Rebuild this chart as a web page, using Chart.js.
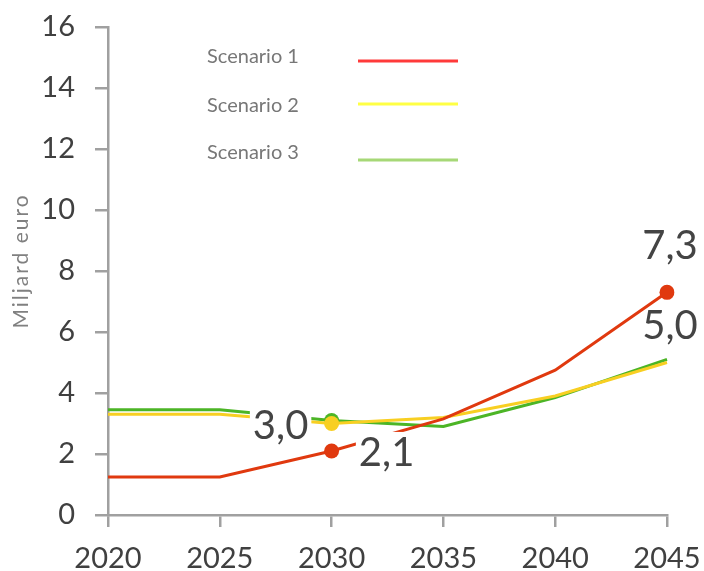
<!DOCTYPE html>
<html><head><meta charset="utf-8">
<script src="https://cdn.jsdelivr.net/npm/chart.js@4/dist/chart.umd.min.js"></script>
<style>html,body{margin:0;padding:0;background:#fff}#wrap{width:704px;height:571px}</style>
</head><body><div id="wrap"><canvas id="c" width="704" height="571"></canvas></div>
<script>
const years = ['2020','2025','2030','2035','2040','2045'];
const seriesNames = ['Scenario 1','Scenario 2','Scenario 3'];
const scenario1 = [1.25, 1.25, 2.1, 3.15, 4.75, 7.3];
const scenario2 = [3.3, 3.3, 3.0, 3.2, 3.9, 5.0];
const scenario3 = [3.45, 3.45, 3.1, 2.9, 3.85, 5.1];
const yTicks = [0, 2, 4, 6, 8, 10, 12, 14, 16];
const yTitle = 'Miljard euro';
// labelled points: [dataset index, point index]
const labelled = [[1,2],[0,2],[0,5],[1,5]];
const markerPoints = {0:[2,5],1:[2],2:[2]};

const lineColors = ['#e0390f','#f8cf22','#4cb526'];
const legendColors = ['#ff3a3a','#ffff44','#a6d877'];
const FONT = 'Lato, "Open Sans", sans-serif';

function radii(i){ return years.map((_,k)=> (markerPoints[i]||[]).includes(k) ? 7.5 : 0); }

const extras = {
  id:'extras',
  afterDatasetsDraw(chart){
    const ctx = chart.ctx;
    const offs = {'1,2':[-51,1,true],'0,2':[55,0,true],'0,5':[3,-48,false],'1,5':[3,-38,false]};
    ctx.save();
    ctx.font = '40px ' + FONT;
    ctx.textAlign='center'; ctx.textBaseline='middle';
    labelled.forEach(([d,i])=>{
      const p = chart.getDatasetMeta(d).data[i];
      const v = chart.data.datasets[d].data[i];
      const t = v.toFixed(1).replace('.',',');
      const o = offs[d+','+i];
      const x = p.x + o[0], y = p.y + o[1];
      const w = ctx.measureText(t).width;
      if (o[2]) {
        ctx.fillStyle='#fff';
        ctx.fillRect(x-w/2-3, y-19, w+6, 38);
      }
      ctx.fillStyle='#444';
      ctx.fillText(t, x, y+2);
    });
    ctx.restore();
  },
  afterDraw(chart){
    const ctx = chart.ctx;
    ctx.save();
    // legend
    const ly = [57,106,153];
    const lineY = [61,104,160];
    ctx.font = '20px ' + FONT;
    ctx.textBaseline='middle'; ctx.textAlign='left';
    seriesNames.forEach((n,i)=>{
      ctx.fillStyle='#777';
      ctx.fillText(n, 207, ly[i]);
      ctx.strokeStyle=legendColors[i]; ctx.lineWidth=3;
      ctx.beginPath(); ctx.moveTo(358,lineY[i]); ctx.lineTo(458,lineY[i]); ctx.stroke();
    });
    // y title
    ctx.translate(21, 261);
    ctx.rotate(-Math.PI/2);
    ctx.textAlign='center';
    ctx.font = '21px ' + FONT;
    if ('letterSpacing' in ctx) ctx.letterSpacing = '2px';
    ctx.fillStyle='#808080';
    ctx.fillText(yTitle, 0, 0);
    ctx.restore();
  }
};

new Chart(document.getElementById('c'), {
  type:'line',
  data:{
    labels: years,
    datasets:[
      {label:seriesNames[0], data:scenario1, borderColor:lineColors[0], backgroundColor:lineColors[0], borderWidth:3, pointRadius:radii(0), pointBackgroundColor:lineColors[0], pointBorderWidth:0, tension:0, order:1},
      {label:seriesNames[1], data:scenario2, borderColor:lineColors[1], backgroundColor:lineColors[1], borderWidth:3, pointRadius:radii(1), pointBackgroundColor:lineColors[1], pointBorderWidth:0, tension:0, order:2},
      {label:seriesNames[2], data:scenario3, borderColor:lineColors[2], backgroundColor:lineColors[2], borderWidth:3, pointRadius:radii(2), pointBackgroundColor:lineColors[2], pointBorderWidth:0, tension:0, order:3}
    ]
  },
  options:{
    responsive:false, animation:false,
    layout:{padding:{top:27,right:37,left:0,bottom:0}},
    plugins:{legend:{display:false}, tooltip:{enabled:false}},
    scales:{
      x:{
        type:'category', offset:false,
        grid:{display:true, drawOnChartArea:false, drawTicks:true, tickLength:12, color:'#a0a0a0', lineWidth:2.5},
        border:{color:'#a0a0a0', width:2.5},
        ticks:{color:'#404040', font:{family:FONT, size:29}, padding:14, maxRotation:0, autoSkip:false},
        afterFit(s){ s.height = 56; s.paddingLeft = 0; s.paddingRight = 0; }
      },
      y:{
        min:0, max:16,
        afterBuildTicks(s){ s.ticks = yTicks.map(v=>({value:v})); },
        grid:{display:true, drawOnChartArea:false, drawTicks:true, tickLength:13, color:'#a0a0a0', lineWidth:2.5},
        border:{color:'#a0a0a0', width:2.5},
        ticks:{color:'#404040', font:{family:FONT, size:29}, padding:20},
        afterFit(s){ s.width = 108; s.paddingTop = 0; s.paddingBottom = 0; }
      }
    }
  },
  plugins:[extras]
});
</script>
</body></html>
